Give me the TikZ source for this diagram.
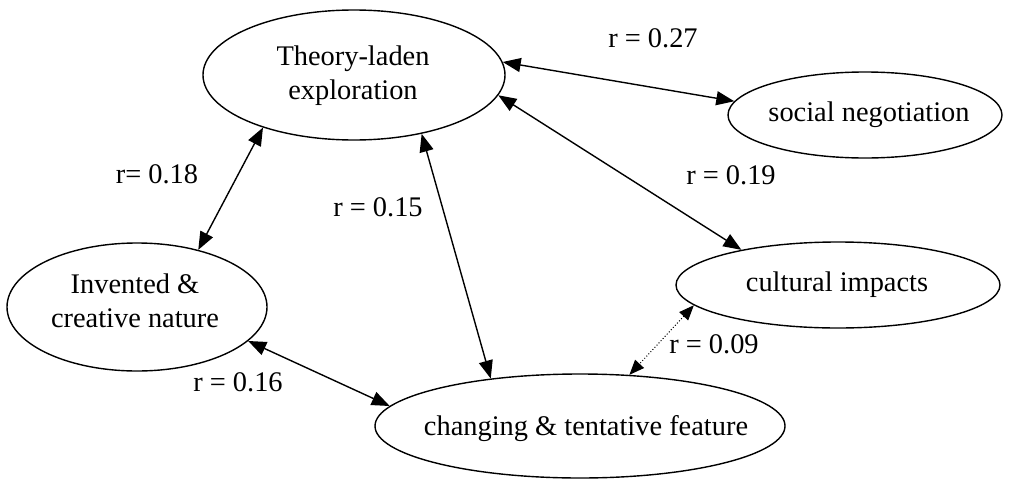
\documentclass[tikz,border=0pt]{standalone}
\usepackage{fontspec}
\setmainfont{Liberation Serif}
\usetikzlibrary{shapes.geometric,arrows.meta}
\tikzset{
  oval/.style={ellipse, draw, line width=1.4pt, inner sep=0pt},
  txt/.style={font=\fontsize{28.4}{34}\selectfont, align=center, inner sep=0pt},
  rel/.style={line width=1.4pt, {Triangle[length=18pt,width=14pt]}-{Triangle[length=18pt,width=14pt]}},
  weak/.style={line width=1pt, dotted, {Triangle[length=15pt,width=12pt]}-{Triangle[length=15pt,width=12pt]}}
}
\begin{document}
\begin{tikzpicture}[x=1pt,y=-1pt]
\useasboundingbox (0,0) rectangle (1014,479);
% ellipses
\node[oval, minimum width=302pt, minimum height=130pt] (t) at (354,75) {};
\node[oval, minimum width=274pt, minimum height=86pt] (s) at (865,115) {};
\node[oval, minimum width=324pt, minimum height=86pt] (c) at (838,285) {};
\node[oval, minimum width=260pt, minimum height=128pt] (i) at (137,307) {};
\node[oval, minimum width=410pt, minimum height=104pt] (g) at (580,426) {};
% texts
\node[txt] (tt) at (353,76) {Theory-laden\\exploration};
\node[txt] (st) at (869,115) {social negotiation};
\node[txt] (ct) at (837,285) {cultural impacts};
\node[txt] (it) at (135,301) {Invented \&\\creative nature};
\node[txt] (gt) at (586,429) {changing \& tentative feature};
% connectors
\draw[rel] (t.5.7) -- (s.174.9);
\draw[rel] (t.-8.7) -- (c.160.5);
\draw[rel] (t.-150.6) -- (i.43.1);
\draw[rel] (t.-41.1) -- (g.152.2);
\draw[rel] (i.-17.2) -- (g.174.1);
\draw[weak] (c.-172.5) -- (g.46.1);
% labels
\node[txt] (l27) at (653,38) {r = 0.27};
\node[txt] (l19) at (731,175) {r = 0.19};
\node[txt] (l18) at (157,174) {r= 0.18};
\node[txt] (l15) at (378,207) {r = 0.15};
\node[txt] (l16) at (238,382) {r = 0.16};
\node[txt] (l09) at (714,344) {r = 0.09};
\end{tikzpicture}
\end{document}
